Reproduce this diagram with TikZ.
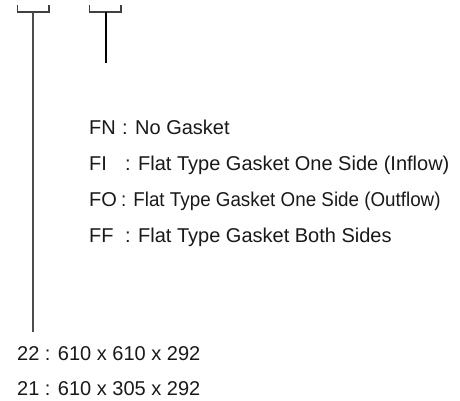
\documentclass[tikz,border=0pt]{standalone}
\usepackage{fontspec}
\setmainfont{Liberation Sans}
\newfontfamily\narrowsans[FakeStretch=0.94]{Liberation Sans}
\usepackage{tikz}
\usetikzlibrary{positioning}

\begin{document}
\begin{tikzpicture}[x=1pt,y=-1pt]
        \tikzset{Label/.style={anchor=base west,inner sep=0pt,font=\fontsize{20}{22}\selectfont,text=black!90}}
        \tikzset{Bracket/.style={draw=black!75,line width=1.1pt}}
        \useasboundingbox (0,0) rectangle (460,401);
        % brackets
        \draw[Bracket] (17.5,5) -- (17.5,12) -- (49,12) -- (49,5);
        \draw[Bracket] (89.7,5) -- (89.7,12) -- (121,12) -- (121,5);
        \coordinate (size) at (33,12);
        \coordinate (sizeend) at (33,332);
        \coordinate (gasket) at (106,12);
        \coordinate (gasketend) at (106,63);
        \draw[Bracket,draw=black!70] (size) -- (sizeend);
        \draw[Bracket,draw=black] (gasket) -- (gasketend);
        % gasket codes
        \node[Label] (FN) at (89,134) {FN};
        \node[Label] (FNt) at (122,134) {: No Gasket};
        \node[Label] (FI) at (89,170) {FI};
        \node[Label] (FIt) at (125,170) {: Flat Type Gasket One Side (Inflow)};
        \node[Label] (FO) at (89,206) {FO};
        \node[Label,font=\fontsize{20}{22}\narrowsans] (FOt) at (121,206) {: Flat Type Gasket One Side (Outflow)};
        \node[Label] (FF) at (89,242) {FF};
        \node[Label] (FFt) at (125,242) {: Flat Type Gasket Both Sides};
        % sizes
        \node[Label] (s22) at (17,360) {22 : 610 x 610 x 292};
        \node[Label] (s21) at (17,395) {21 : 610 x 305 x 292};
    \end{tikzpicture}
\end{document}
